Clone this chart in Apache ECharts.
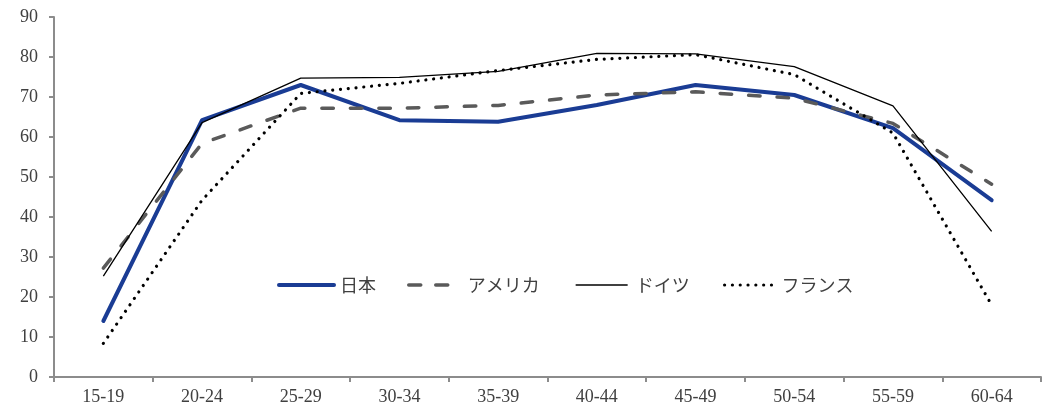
<!DOCTYPE html>
<html>
<head>
<meta charset="utf-8">
<script src="https://cdn.jsdelivr.net/npm/echarts@6/dist/echarts.min.js"></script>
<style>
  html, body { margin: 0; padding: 0; background: #ffffff; }
  #chart { width: 1052px; height: 408px; }
</style>
</head>
<body>
<div id="chart"></div>
<script>
// Labour force participation rate by age group (%)
const ageGroups = ['15-19', '20-24', '25-29', '30-34', '35-39', '40-44', '45-49', '50-54', '55-59', '60-64'];
const japan   = [14.0, 64.2, 73.0, 64.2, 63.8, 68.0, 73.0, 70.5, 62.2, 44.2];
const america = [27.2, 58.4, 67.2, 67.2, 67.9, 70.5, 71.3, 69.7, 63.4, 48.2];
const germany = [25.2, 63.6, 74.7, 74.9, 76.4, 80.9, 80.8, 77.6, 67.8, 36.4];
const france  = [8.4, 44.2, 70.9, 73.4, 76.6, 79.4, 80.6, 75.6, 61.0, 18.0];
const seriesNames = ['日本', 'アメリカ', 'ドイツ', 'フランス'];
const yTicks = { min: 0, max: 90, step: 10 };

const serifFont = '"Liberation Serif", "DejaVu Serif", serif';
const jpFont = '"Noto Sans CJK JP", sans-serif';
const axisGrey = '#8c8c8c';
const textGrey = '#404040';

const styles = {
  '日本':     { color: '#1a3c94', width: 4, cap: 'round', join: 'round' },
  'アメリカ': { color: '#5a5a5a', width: 3.5, type: [11.5, 17], cap: 'round', join: 'round' },
  'ドイツ':   { color: '#000000', width: 1.3, join: 'round' },
  'フランス': { color: '#000000', width: 3.2, type: [0.01, 7.8], cap: 'round', join: 'round' }
};

// Legend entries placed one by one: left edge, icon width, text offset, icon dash
const legendLayout = {
  '日本':     { left: 277, width: 55, textPad: 1 },
  'アメリカ': { left: 407, width: 41, textPad: 13, dash: [12, 15] },
  'ドイツ':   { left: 575, width: 52, textPad: 3 },
  'フランス': { left: 723, width: 48, textPad: 4 }
};

const chart = echarts.init(document.getElementById('chart'));

function lineSeries(name, data) {
  const style = styles[name];
  return {
    name: name,
    type: 'line',
    data: data,
    symbol: 'none',
    smooth: false,
    lineStyle: style,
    itemStyle: { color: style.color }
  };
}

const legends = seriesNames.map(n => {
  const lay = legendLayout[n];
  const ls = Object.assign({}, styles[n]);
  if (lay.dash) ls.type = lay.dash;
  return {
    left: lay.left,
    top: 276,
    padding: 0,
    itemWidth: lay.width,
    itemHeight: 20,
    itemStyle: { opacity: 0 },
    textStyle: { fontFamily: jpFont, fontSize: 18, color: textGrey, padding: [0, 0, 0, lay.textPad] },
    data: [{ name: n, lineStyle: ls }]
  };
});

chart.setOption({
  animation: false,
  grid: { left: 54, right: 11, top: 17, bottom: 31 },
  legend: legends,
  xAxis: {
    type: 'category',
    data: ageGroups,
    boundaryGap: true,
    axisLine: { lineStyle: { color: axisGrey, width: 2 } },
    axisTick: { show: true, length: 5, inside: false, lineStyle: { color: axisGrey, width: 2 } },
    axisLabel: { fontFamily: serifFont, fontSize: 18, color: textGrey, margin: 11 },
    splitLine: { show: false }
  },
  yAxis: {
    type: 'value',
    min: yTicks.min,
    max: yTicks.max,
    interval: yTicks.step,
    axisLine: { show: true, lineStyle: { color: axisGrey, width: 2 } },
    axisTick: { show: true, length: 5, inside: false, lineStyle: { color: axisGrey, width: 2 } },
    axisLabel: { fontFamily: serifFont, fontSize: 18, color: textGrey, margin: 16 },
    splitLine: { show: false }
  },
  series: seriesNames.map((n, i) => lineSeries(n, [japan, america, germany, france][i]))
});
</script>
</body>
</html>
